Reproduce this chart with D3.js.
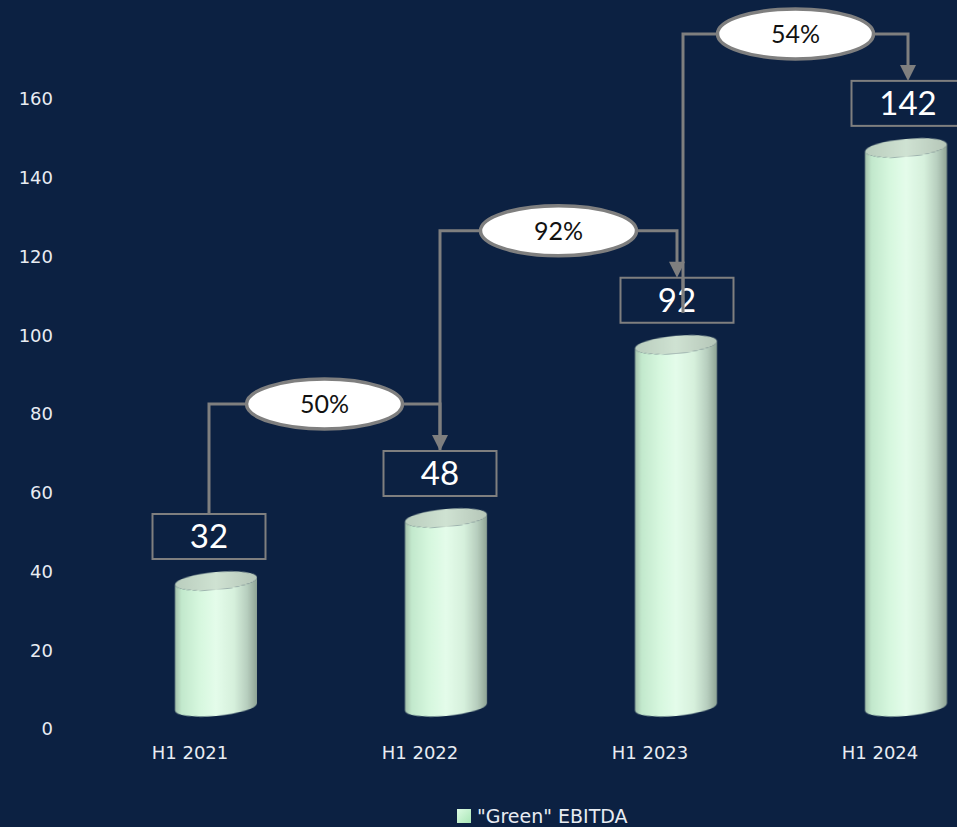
<!DOCTYPE html>
<html><head><meta charset="utf-8">
<script src="https://cdn.jsdelivr.net/npm/d3@7/dist/d3.min.js"></script>
<style>html,body{margin:0;padding:0;background:#0c2142;}svg{display:block;}</style>
</head><body>
<script>
const categories = ["H1 2021", "H1 2022", "H1 2023", "H1 2024"];
const values = [32, 48, 92, 142];
const growthLabels = ["50%", "92%", "54%"];
const yTicks = [0, 20, 40, 60, 80, 100, 120, 140, 160];
const seriesName = '"Green" EBITDA';

const W = 957, H = 827;
const svg = d3.select("body").append("svg").attr("width", W).attr("height", H);
svg.append("rect").attr("width", W).attr("height", H).attr("fill", "#0c2142");

const y = d3.scaleLinear().domain([0, 160]).range([729, 99]);
const x = d3.scaleBand().domain(categories).range([75, 995]).padding(0);
const xc = c => x(c) + x.bandwidth() / 2;

// depth offset (3D)
const dx = 26, dy = -22;
const boxShift = [19, 20, 27, 28];

const defs = svg.append("defs");
const g1 = defs.append("linearGradient").attr("id", "cyl").attr("x1", 0).attr("x2", 1).attr("y1", 0).attr("y2", 0);
[[0, "#a3bfaa"], [0.08, "#c2e8cc"], [0.3, "#d6f7de"], [0.5, "#e4fcea"], [0.72, "#d6f0dc"], [0.88, "#b7cebe"], [1, "#8ea395"]]
  .forEach(([o, c]) => g1.append("stop").attr("offset", o).attr("stop-color", c));
const g2 = defs.append("linearGradient").attr("id", "cyltop").attr("x1", 0).attr("x2", 1).attr("y1", 0).attr("y2", 0);
[[0, "#b9cdbd"], [0.5, "#cfe2d2"], [1, "#b5c6b8"]]
  .forEach(([o, c]) => g2.append("stop").attr("offset", o).attr("stop-color", c));
const g3 = defs.append("linearGradient").attr("id", "leg").attr("x1", 0).attr("x2", 1).attr("y1", 0).attr("y2", 1);
[[0, "#ddfbe3"], [1, "#a9e6b6"]].forEach(([o, c]) => g3.append("stop").attr("offset", o).attr("stop-color", c));
defs.append("filter").attr("id", "soft").append("feGaussianBlur").attr("stdDeviation", 0.7);

// Y axis (labels only)
const yAxis = d3.axisLeft(y).tickValues(yTicks).tickSize(0).tickPadding(0);
const ya = svg.append("g").attr("transform", "translate(53,0)").call(yAxis);
ya.select(".domain").remove();
ya.selectAll("text").attr("fill", "#e8ecf2").style("font-family", "DejaVu Sans, sans-serif").style("font-size", "18px");

// X axis (labels only)
const xAxis = d3.axisBottom(x).tickSize(0).tickPadding(0);
const xa = svg.append("g").attr("transform", "translate(0,746)").call(xAxis);
xa.select(".domain").remove();
xa.selectAll("text").attr("fill", "#e8ecf2").style("font-family", "DejaVu Sans, sans-serif").style("font-size", "18px");

// Cylinders
const rx = 41, ry = 9;
const cyl = svg.append("g").selectAll("g").data(categories).join("g")
  .attr("filter", "url(#soft)")
  .attr("transform", c => { const cx = xc(c) + dx; return `translate(${cx},0) skewY(-5) translate(${-cx},0)`; });
cyl.each(function (c, i) {
  const cx = xc(c) + dx;
  const top = y(values[i]) + dy, bot = y(0) + dy;
  const g = d3.select(this);
  g.append("path")
    .attr("d", `M${cx - rx},${top} L${cx - rx},${bot} A${rx},${ry} 0 0 0 ${cx + rx},${bot} L${cx + rx},${top} A${rx},${ry} 0 0 1 ${cx - rx},${top} Z`)
    .attr("fill", "url(#cyl)");
  g.append("ellipse").attr("cx", cx).attr("cy", top).attr("rx", rx).attr("ry", ry).attr("fill", "url(#cyltop)");
});

// Value label boxes
const bw = 113, bh = 45;
const boxCx = categories.map((c, i) => xc(c) + boxShift[i]);
const boxBottom = values.map(v => y(v) + dy - ry - 13);
const boxTop = boxBottom.map(b => b - bh);

const lineColor = "#7f7f7f";
const ann = svg.append("g");

// connectors
growthLabels.forEach((lab, i) => {
  const lvl = boxTop[i + 1] - 47;
  const sx = i === 2 ? boxCx[i] + 6 : boxCx[i];
  const sy = i === 2 ? boxBottom[i] - 10 : boxTop[i];
  const ex = boxCx[i + 1];
  const ey = boxTop[i + 1];
  ann.append("path")
    .attr("d", `M${sx},${sy} L${sx},${lvl} L${ex},${lvl} L${ex},${ey - 14}`)
    .attr("fill", "none").attr("stroke", lineColor).attr("stroke-width", 3);
  ann.append("path")
    .attr("d", `M${ex - 8},${ey - 16} L${ex + 8},${ey - 16} L${ex},${ey} Z`)
    .attr("fill", lineColor);
  const mx = (sx + ex) / 2;
  ann.append("ellipse").attr("cx", mx).attr("cy", lvl).attr("rx", 78).attr("ry", 25)
    .attr("fill", "#ffffff").attr("stroke", lineColor).attr("stroke-width", 3.5);
  ann.append("text").attr("x", mx).attr("y", lvl).attr("dy", "0.36em")
    .attr("text-anchor", "middle").attr("fill", "#111")
    .style("font-family", "Lato, sans-serif").style("font-size", "25px").text(lab);
});

// boxes
values.forEach((v, i) => {
  ann.append("rect").attr("x", boxCx[i] - bw / 2).attr("y", boxTop[i]).attr("width", bw).attr("height", bh)
    .attr("fill", "none").attr("stroke", lineColor).attr("stroke-width", 2);
  ann.append("text").attr("x", boxCx[i]).attr("y", boxTop[i] + bh / 2).attr("dy", "0.36em")
    .attr("text-anchor", "middle").attr("fill", "#ffffff")
    .style("font-family", "Lato, sans-serif").style("font-size", "33px").text(v);
});
// the 54% connector runs over the 92 box (as in reference)
{
  const sx = boxCx[2] + 6;
  ann.append("line").attr("x1", sx).attr("x2", sx).attr("y1", boxBottom[2] - 10).attr("y2", boxTop[2])
    .attr("stroke", lineColor).attr("stroke-width", 3);
}

// Legend
const leg = svg.append("g").attr("transform", "translate(457,809)");
leg.append("rect").attr("width", 14).attr("height", 14).attr("fill", "url(#leg)");
leg.append("text").attr("x", 20).attr("y", 7).attr("dy", "0.36em").attr("fill", "#e8ecf2")
  .style("font-family", "DejaVu Sans, sans-serif").style("font-size", "19px").text(seriesName);
</script>
</body></html>
